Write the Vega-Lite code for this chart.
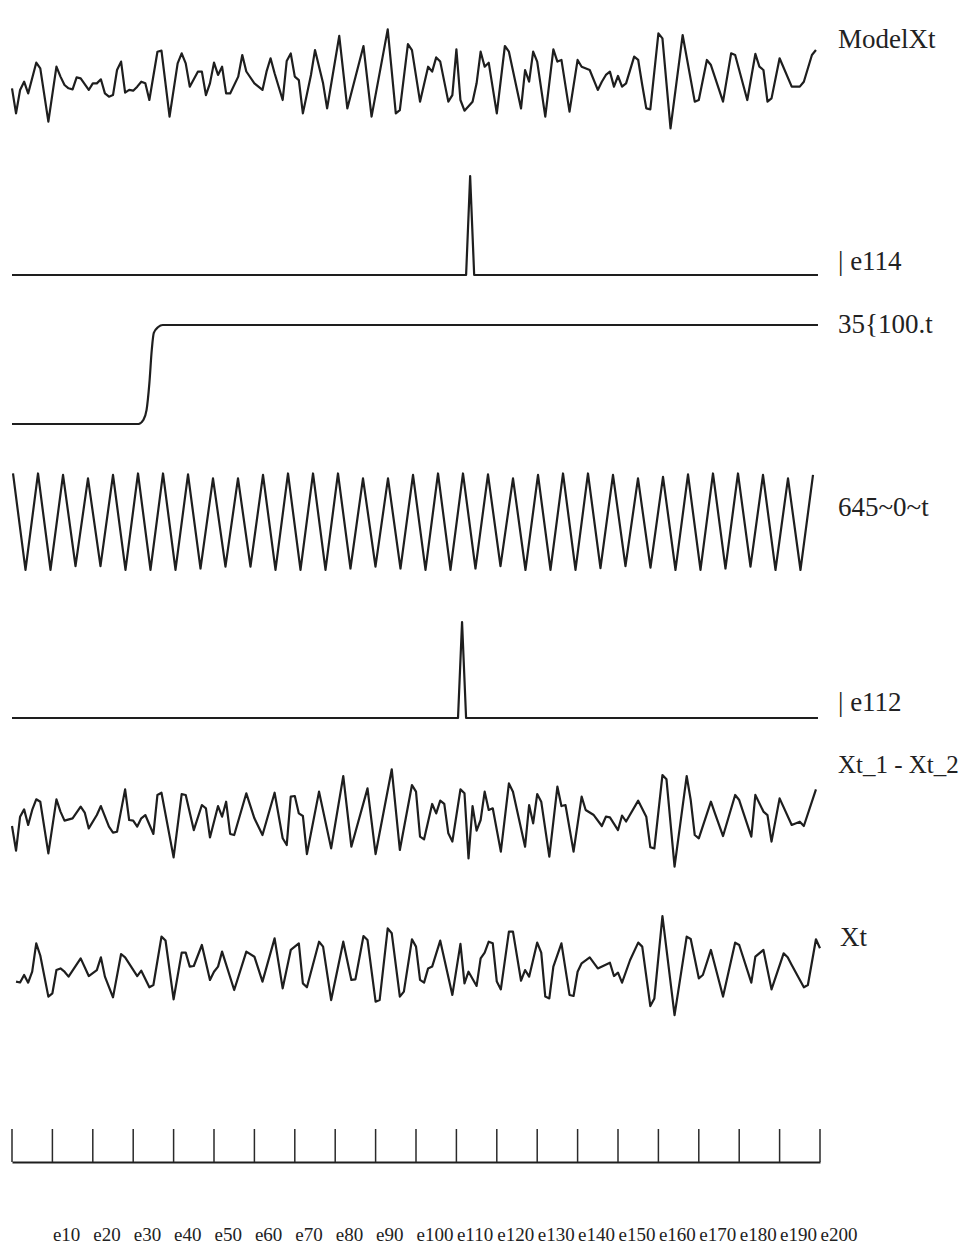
{
"$schema": "https://vega.github.io/schema/vega-lite/v6.json",
"padding": {"left": 10, "top": 0, "right": 0, "bottom": 0},
"spacing": 0,
"bounds": "flush",
"background": "white",
"config": {"view": {"stroke": null}, "text": {"font": "Liberation Serif", "fontSize": 27, "color": "#222", "align": "left", "baseline": "middle"}, "line": {"color": "#1e1e1e", "strokeWidth": 2.2, "strokeJoin": "round"}},
"datasets": {
"s": [
{"s":"M","t":0,"v":-0.22},{"s":"M","t":1,"v":-1.89},{"s":"M","t":2,"v":-0.33},{"s":"M","t":3,"v":0.22},{"s":"M","t":4,"v":-0.56},{"s":"M","t":6,"v":1.49},{"s":"M","t":7,"v":1.11},{"s":"M","t":9,"v":-2.44},{"s":"M","t":11,"v":1.22},{"s":"M","t":12,"v":0.56},{"s":"M","t":13,"v":0},{"s":"M","t":14,"v":-0.22},{"s":"M","t":15,"v":-0.29},{"s":"M","t":16,"v":0.51},{"s":"M","t":17,"v":0.44},{"s":"M","t":19,"v":-0.33},{"s":"M","t":20,"v":0.11},{"s":"M","t":21,"v":0.11},{"s":"M","t":22,"v":0.38},{"s":"M","t":23,"v":-0.56},{"s":"M","t":24,"v":-0.78},{"s":"M","t":25,"v":-0.67},{"s":"M","t":26,"v":1.0},{"s":"M","t":27,"v":1.56},{"s":"M","t":28,"v":-0.51},{"s":"M","t":29,"v":-0.33},{"s":"M","t":30,"v":-0.38},{"s":"M","t":31,"v":-0.11},{"s":"M","t":32,"v":0.22},{"s":"M","t":33,"v":0.11},{"s":"M","t":34,"v":-1.0},{"s":"M","t":36,"v":2.22},{"s":"M","t":37,"v":2.29},{"s":"M","t":39,"v":-2.11},{"s":"M","t":41,"v":1.44},{"s":"M","t":42,"v":2.11},{"s":"M","t":43,"v":1.44},{"s":"M","t":44,"v":-0.11},{"s":"M","t":46,"v":0.89},{"s":"M","t":47,"v":0.89},{"s":"M","t":48,"v":-0.67},{"s":"M","t":49,"v":0.11},{"s":"M","t":50,"v":1.49},{"s":"M","t":51,"v":0.67},{"s":"M","t":52,"v":1.22},{"s":"M","t":53,"v":-0.56},{"s":"M","t":54,"v":-0.56},{"s":"M","t":56,"v":0.56},{"s":"M","t":57,"v":2.0},{"s":"M","t":58,"v":0.9},{"s":"M","t":60,"v":0.11},{"s":"M","t":61,"v":-0.11},{"s":"M","t":62,"v":-0.33},{"s":"M","t":63,"v":0.89},{"s":"M","t":64,"v":1.78},{"s":"M","t":65,"v":0.78},{"s":"M","t":67,"v":-1.0},{"s":"M","t":68,"v":1.6},{"s":"M","t":69,"v":2.1},{"s":"M","t":70,"v":0.56},{"s":"M","t":71,"v":0.33},{"s":"M","t":72,"v":-1.89},{"s":"M","t":74,"v":0.67},{"s":"M","t":75,"v":2.33},{"s":"M","t":77,"v":0.11},{"s":"M","t":78,"v":-1.56},{"s":"M","t":81,"v":3.27},{"s":"M","t":83,"v":-1.56},{"s":"M","t":87,"v":2.6},{"s":"M","t":89,"v":-2.11},{"s":"M","t":93,"v":3.71},{"s":"M","t":95,"v":-1.89},{"s":"M","t":96,"v":-1.67},{"s":"M","t":98,"v":2.73},{"s":"M","t":99,"v":2.33},{"s":"M","t":101,"v":-1.11},{"s":"M","t":103,"v":1.22},{"s":"M","t":104,"v":0.89},{"s":"M","t":105,"v":1.84},{"s":"M","t":106,"v":1.56},{"s":"M","t":108,"v":-1.11},{"s":"M","t":109,"v":-0.67},{"s":"M","t":110,"v":2.38},{"s":"M","t":111,"v":-1.0},{"s":"M","t":112,"v":-1.71},{"s":"M","t":114,"v":-1.11},{"s":"M","t":115,"v":0.11},{"s":"M","t":116,"v":2.22},{"s":"M","t":117,"v":1.22},{"s":"M","t":118,"v":1.49},{"s":"M","t":120,"v":-1.89},{"s":"M","t":122,"v":2.6},{"s":"M","t":123,"v":2.22},{"s":"M","t":126,"v":-1.56},{"s":"M","t":127,"v":1.0},{"s":"M","t":128,"v":0.22},{"s":"M","t":129,"v":2.22},{"s":"M","t":130,"v":1.56},{"s":"M","t":132,"v":-2.11},{"s":"M","t":134,"v":2.38},{"s":"M","t":135,"v":1.56},{"s":"M","t":136,"v":1.67},{"s":"M","t":138,"v":-1.78},{"s":"M","t":140,"v":1.67},{"s":"M","t":141,"v":1.22},{"s":"M","t":143,"v":1.0},{"s":"M","t":145,"v":-0.33},{"s":"M","t":146,"v":0.22},{"s":"M","t":147,"v":0.67},{"s":"M","t":148,"v":0.89},{"s":"M","t":149,"v":-0.11},{"s":"M","t":150,"v":0.6},{"s":"M","t":151,"v":-0.11},{"s":"M","t":152,"v":0.11},{"s":"M","t":154,"v":1.89},{"s":"M","t":155,"v":1.67},{"s":"M","t":156,"v":0.0},{"s":"M","t":157,"v":-1.56},{"s":"M","t":158,"v":-1.62},{"s":"M","t":160,"v":3.44},{"s":"M","t":161,"v":3.11},{"s":"M","t":163,"v":-2.89},{"s":"M","t":166,"v":3.33},{"s":"M","t":169,"v":-1.11},{"s":"M","t":170,"v":-1.0},{"s":"M","t":172,"v":1.67},{"s":"M","t":173,"v":1.33},{"s":"M","t":176,"v":-1.11},{"s":"M","t":178,"v":2.11},{"s":"M","t":179,"v":2.0},{"s":"M","t":182,"v":-1.0},{"s":"M","t":184,"v":2.07},{"s":"M","t":185,"v":1.22},{"s":"M","t":186,"v":1.0},{"s":"M","t":187,"v":-1.11},{"s":"M","t":188,"v":-0.89},{"s":"M","t":190,"v":1.78},{"s":"M","t":193,"v":-0.11},{"s":"M","t":195,"v":-0.11},{"s":"M","t":196,"v":0.22},{"s":"M","t":198,"v":2.0},{"s":"M","t":199,"v":2.33},
{"s":"A","t":0,"v":0},{"s":"A","t":112.4,"v":0},{"s":"A","t":113.4,"v":1},{"s":"A","t":114.4,"v":0},{"s":"A","t":199.5,"v":0},
{"s":"S","t":0,"v":0},{"s":"S","t":31.3,"v":0},{"s":"S","t":32.5,"v":0.04},{"s":"S","t":33.3,"v":0.14},{"s":"S","t":34.0,"v":0.41},{"s":"S","t":34.6,"v":0.75},{"s":"S","t":35.1,"v":0.92},{"s":"S","t":36.2,"v":0.98},{"s":"S","t":37.3,"v":1.0},{"s":"S","t":199.5,"v":1.0},
{"s":"W","t":0.25,"v":0.99},{"s":"W","t":3.34,"v":-1},{"s":"W","t":6.44,"v":0.99},{"s":"W","t":9.53,"v":-1},{"s":"W","t":12.63,"v":0.96},{"s":"W","t":15.72,"v":-0.92},{"s":"W","t":18.81,"v":0.89},{"s":"W","t":21.9,"v":-0.92},{"s":"W","t":25.0,"v":0.96},{"s":"W","t":28.09,"v":-1},{"s":"W","t":31.19,"v":0.99},{"s":"W","t":34.28,"v":-1},{"s":"W","t":37.38,"v":0.99},{"s":"W","t":40.47,"v":-1},{"s":"W","t":43.57,"v":0.97},{"s":"W","t":46.66,"v":-0.97},{"s":"W","t":49.75,"v":0.89},{"s":"W","t":52.84,"v":-0.93},{"s":"W","t":55.94,"v":0.89},{"s":"W","t":59.03,"v":-0.93},{"s":"W","t":62.13,"v":0.96},{"s":"W","t":65.22,"v":-1},{"s":"W","t":68.32,"v":0.99},{"s":"W","t":71.41,"v":-1},{"s":"W","t":74.51,"v":0.99},{"s":"W","t":77.6,"v":-1},{"s":"W","t":80.69,"v":0.99},{"s":"W","t":83.78,"v":-0.97},{"s":"W","t":86.88,"v":0.89},{"s":"W","t":89.97,"v":-0.93},{"s":"W","t":93.07,"v":0.89},{"s":"W","t":96.16,"v":-0.97},{"s":"W","t":99.26,"v":0.96},{"s":"W","t":102.35,"v":-1},{"s":"W","t":105.45,"v":0.99},{"s":"W","t":108.54,"v":-1},{"s":"W","t":111.63,"v":0.99},{"s":"W","t":114.72,"v":-0.97},{"s":"W","t":117.82,"v":0.97},{"s":"W","t":120.91,"v":-0.92},{"s":"W","t":124.01,"v":0.89},{"s":"W","t":127.1,"v":-1},{"s":"W","t":130.2,"v":0.96},{"s":"W","t":133.29,"v":-1},{"s":"W","t":136.39,"v":0.99},{"s":"W","t":139.48,"v":-1},{"s":"W","t":142.57,"v":0.99},{"s":"W","t":145.66,"v":-0.96},{"s":"W","t":148.76,"v":0.96},{"s":"W","t":151.85,"v":-0.92},{"s":"W","t":154.95,"v":0.89},{"s":"W","t":158.04,"v":-0.95},{"s":"W","t":161.14,"v":0.92},{"s":"W","t":164.23,"v":-1},{"s":"W","t":167.33,"v":0.97},{"s":"W","t":170.42,"v":-1},{"s":"W","t":173.51,"v":0.99},{"s":"W","t":176.6,"v":-0.97},{"s":"W","t":179.7,"v":0.99},{"s":"W","t":182.79,"v":-0.93},{"s":"W","t":185.89,"v":0.96},{"s":"W","t":188.98,"v":-1},{"s":"W","t":192.08,"v":0.89},{"s":"W","t":195.17,"v":-1},{"s":"W","t":198.27,"v":0.96},
{"s":"B","t":0,"v":0},{"s":"B","t":110.4,"v":0},{"s":"B","t":111.4,"v":1},{"s":"B","t":112.4,"v":0},{"s":"B","t":199.5,"v":0},
{"s":"D","t":0,"v":-0.4},{"s":"D","t":1,"v":-2.04},{"s":"D","t":2,"v":0.22},{"s":"D","t":3,"v":0.71},{"s":"D","t":4,"v":-0.33},{"s":"D","t":5,"v":0.67},{"s":"D","t":6,"v":1.38},{"s":"D","t":7,"v":1.22},{"s":"D","t":9,"v":-2.22},{"s":"D","t":11,"v":1.38},{"s":"D","t":12,"v":0.56},{"s":"D","t":13,"v":-0.04},{"s":"D","t":15,"v":0.11},{"s":"D","t":17,"v":0.89},{"s":"D","t":18,"v":0.5},{"s":"D","t":19,"v":-0.56},{"s":"D","t":21,"v":0.33},{"s":"D","t":22,"v":0.93},{"s":"D","t":24,"v":-0.44},{"s":"D","t":25,"v":-0.84},{"s":"D","t":26,"v":-0.78},{"s":"D","t":28,"v":2.04},{"s":"D","t":29,"v":0},{"s":"D","t":30,"v":-0.04},{"s":"D","t":31,"v":-0.44},{"s":"D","t":32,"v":0.11},{"s":"D","t":33,"v":0.33},{"s":"D","t":35,"v":-0.93},{"s":"D","t":36,"v":1.67},{"s":"D","t":37,"v":1.82},{"s":"D","t":40,"v":-2.49},{"s":"D","t":42,"v":1.73},{"s":"D","t":43,"v":1.67},{"s":"D","t":45,"v":-0.67},{"s":"D","t":47,"v":1.0},{"s":"D","t":48,"v":0.78},{"s":"D","t":49,"v":-1.16},{"s":"D","t":51,"v":0.93},{"s":"D","t":52,"v":0.22},{"s":"D","t":53,"v":1.22},{"s":"D","t":54,"v":-0.93},{"s":"D","t":55,"v":-1.0},{"s":"D","t":58,"v":1.78},{"s":"D","t":60,"v":0.11},{"s":"D","t":62,"v":-1.0},{"s":"D","t":65,"v":1.82},{"s":"D","t":67,"v":-1.22},{"s":"D","t":68,"v":-1.67},{"s":"D","t":69,"v":1.56},{"s":"D","t":70,"v":1.6},{"s":"D","t":71,"v":0.44},{"s":"D","t":72,"v":0.27},{"s":"D","t":73,"v":-2.27},{"s":"D","t":76,"v":1.89},{"s":"D","t":79,"v":-1.89},{"s":"D","t":82,"v":2.93},{"s":"D","t":84,"v":-1.78},{"s":"D","t":88,"v":2.11},{"s":"D","t":90,"v":-2.27},{"s":"D","t":94,"v":3.38},{"s":"D","t":96,"v":-2.0},{"s":"D","t":99,"v":2.33},{"s":"D","t":100,"v":1.89},{"s":"D","t":101,"v":-1.11},{"s":"D","t":102,"v":-1.29},{"s":"D","t":104,"v":1.07},{"s":"D","t":105,"v":0.44},{"s":"D","t":106,"v":1.29},{"s":"D","t":107,"v":1.07},{"s":"D","t":108,"v":-0.89},{"s":"D","t":109,"v":-1.44},{"s":"D","t":111,"v":2.04},{"s":"D","t":112,"v":1.78},{"s":"D","t":113,"v":-2.56},{"s":"D","t":114,"v":0.93},{"s":"D","t":115,"v":-0.71},{"s":"D","t":116,"v":0},{"s":"D","t":117,"v":1.89},{"s":"D","t":118,"v":0.67},{"s":"D","t":119,"v":0.78},{"s":"D","t":121,"v":-2.11},{"s":"D","t":123,"v":2.44},{"s":"D","t":124,"v":1.89},{"s":"D","t":127,"v":-1.78},{"s":"D","t":128,"v":1.0},{"s":"D","t":129,"v":-0.22},{"s":"D","t":130,"v":1.73},{"s":"D","t":131,"v":1.22},{"s":"D","t":133,"v":-2.44},{"s":"D","t":135,"v":2.22},{"s":"D","t":136,"v":0.93},{"s":"D","t":137,"v":1.0},{"s":"D","t":139,"v":-2.11},{"s":"D","t":141,"v":1.56},{"s":"D","t":142,"v":0.67},{"s":"D","t":144,"v":0.33},{"s":"D","t":146,"v":-0.4},{"s":"D","t":147,"v":0.22},{"s":"D","t":148,"v":0.18},{"s":"D","t":150,"v":-0.67},{"s":"D","t":151,"v":0.3},{"s":"D","t":152,"v":-0.1},{"s":"D","t":155,"v":1.29},{"s":"D","t":157,"v":0.22},{"s":"D","t":158,"v":-1.82},{"s":"D","t":159,"v":-1.89},{"s":"D","t":161,"v":3.0},{"s":"D","t":162,"v":2.71},{"s":"D","t":164,"v":-3.11},{"s":"D","t":167,"v":2.93},{"s":"D","t":168,"v":1.33},{"s":"D","t":169,"v":-1.0},{"s":"D","t":170,"v":-1.22},{"s":"D","t":173,"v":1.22},{"s":"D","t":174,"v":0.44},{"s":"D","t":176,"v":-1.07},{"s":"D","t":179,"v":1.67},{"s":"D","t":180,"v":1.33},{"s":"D","t":183,"v":-1.11},{"s":"D","t":184,"v":1.67},{"s":"D","t":186,"v":0.56},{"s":"D","t":187,"v":0.33},{"s":"D","t":188,"v":-1.44},{"s":"D","t":190,"v":1.44},{"s":"D","t":193,"v":-0.33},{"s":"D","t":195,"v":-0.11},{"s":"D","t":196,"v":-0.4},{"s":"D","t":199,"v":2.04},
{"s":"X","t":1,"v":-0.44},{"s":"X","t":2,"v":-0.5},{"s":"X","t":3,"v":0},{"s":"X","t":4,"v":-0.51},{"s":"X","t":5,"v":0.22},{"s":"X","t":6,"v":2.11},{"s":"X","t":7,"v":1.3},{"s":"X","t":9,"v":-1.44},{"s":"X","t":10,"v":-1.22},{"s":"X","t":11,"v":0.33},{"s":"X","t":12,"v":0.44},{"s":"X","t":13,"v":0.22},{"s":"X","t":14,"v":-0.11},{"s":"X","t":17,"v":1.11},{"s":"X","t":19,"v":-0.07},{"s":"X","t":21,"v":0.33},{"s":"X","t":22,"v":1.18},{"s":"X","t":23,"v":-0.11},{"s":"X","t":25,"v":-1.49},{"s":"X","t":27,"v":1.4},{"s":"X","t":28,"v":1.18},{"s":"X","t":31,"v":-0.07},{"s":"X","t":32,"v":0.29},{"s":"X","t":34,"v":-0.82},{"s":"X","t":35,"v":-0.67},{"s":"X","t":37,"v":2.56},{"s":"X","t":38,"v":2.3},{"s":"X","t":40,"v":-1.62},{"s":"X","t":42,"v":1.49},{"s":"X","t":43,"v":1.49},{"s":"X","t":44,"v":0.56},{"s":"X","t":45,"v":0.6},{"s":"X","t":47,"v":2.0},{"s":"X","t":49,"v":-0.33},{"s":"X","t":50,"v":0.22},{"s":"X","t":51,"v":0.56},{"s":"X","t":52,"v":1.56},{"s":"X","t":55,"v":-1.0},{"s":"X","t":58,"v":1.56},{"s":"X","t":60,"v":1.22},{"s":"X","t":62,"v":-0.44},{"s":"X","t":65,"v":2.44},{"s":"X","t":67,"v":-0.89},{"s":"X","t":69,"v":1.67},{"s":"X","t":71,"v":2.11},{"s":"X","t":72,"v":-0.56},{"s":"X","t":73,"v":-0.82},{"s":"X","t":76,"v":2.22},{"s":"X","t":77,"v":1.89},{"s":"X","t":79,"v":-1.67},{"s":"X","t":82,"v":2.22},{"s":"X","t":84,"v":-0.33},{"s":"X","t":85,"v":-0.29},{"s":"X","t":87,"v":2.6},{"s":"X","t":88,"v":2.33},{"s":"X","t":90,"v":-1.78},{"s":"X","t":91,"v":-1.67},{"s":"X","t":93,"v":3.11},{"s":"X","t":94,"v":2.78},{"s":"X","t":96,"v":-1.44},{"s":"X","t":97,"v":-1.11},{"s":"X","t":99,"v":2.38},{"s":"X","t":100,"v":1.89},{"s":"X","t":101,"v":-0.33},{"s":"X","t":102,"v":-0.51},{"s":"X","t":103,"v":0.44},{"s":"X","t":104,"v":0.56},{"s":"X","t":106,"v":2.29},{"s":"X","t":109,"v":-1.33},{"s":"X","t":111,"v":2.07},{"s":"X","t":112,"v":-0.56},{"s":"X","t":113,"v":0.22},{"s":"X","t":115,"v":-0.73},{"s":"X","t":116,"v":1.11},{"s":"X","t":117,"v":1.49},{"s":"X","t":118,"v":2.22},{"s":"X","t":119,"v":2.11},{"s":"X","t":120,"v":-0.44},{"s":"X","t":121,"v":-0.96},{"s":"X","t":123,"v":2.89},{"s":"X","t":124,"v":2.89},{"s":"X","t":126,"v":-0.38},{"s":"X","t":127,"v":0.33},{"s":"X","t":128,"v":-0.11},{"s":"X","t":130,"v":2.16},{"s":"X","t":131,"v":1.49},{"s":"X","t":132,"v":-1.44},{"s":"X","t":133,"v":-1.56},{"s":"X","t":134,"v":0.56},{"s":"X","t":136,"v":2.11},{"s":"X","t":138,"v":-1.33},{"s":"X","t":139,"v":-1.4},{"s":"X","t":140,"v":0.22},{"s":"X","t":141,"v":0.78},{"s":"X","t":143,"v":1.18},{"s":"X","t":145,"v":0.44},{"s":"X","t":148,"v":0.82},{"s":"X","t":149,"v":-0.07},{"s":"X","t":150,"v":0.16},{"s":"X","t":151,"v":-0.51},{"s":"X","t":153,"v":1.0},{"s":"X","t":155,"v":2.16},{"s":"X","t":156,"v":1.89},{"s":"X","t":158,"v":-2.07},{"s":"X","t":159,"v":-1.56},{"s":"X","t":161,"v":3.93},{"s":"X","t":164,"v":-2.67},{"s":"X","t":167,"v":2.56},{"s":"X","t":168,"v":2.4},{"s":"X","t":170,"v":-0.22},{"s":"X","t":171,"v":0},{"s":"X","t":173,"v":1.67},{"s":"X","t":176,"v":-1.44},{"s":"X","t":179,"v":2.16},{"s":"X","t":180,"v":2.0},{"s":"X","t":183,"v":-0.51},{"s":"X","t":184,"v":1.22},{"s":"X","t":186,"v":1.67},{"s":"X","t":188,"v":-0.96},{"s":"X","t":191,"v":1.44},{"s":"X","t":192,"v":1.18},{"s":"X","t":193,"v":0.67},{"s":"X","t":196,"v":-0.82},{"s":"X","t":197,"v":-0.67},{"s":"X","t":199,"v":2.38},{"s":"X","t":200,"v":1.78}
],
"ticks": [{"t":0},{"t":10},{"t":20},{"t":30},{"t":40},{"t":50},{"t":60},{"t":70},{"t":80},{"t":90},{"t":100},{"t":110},{"t":120},{"t":130},{"t":140},{"t":150},{"t":160},{"t":170},{"t":180},{"t":190},{"t":200}]
},
"vconcat": [
{"width": 808, "height": 150, "data": {"name": "s"}, "transform": [{"filter": "datum.s == 'M'"}],
 "encoding": {"x": {"field": "t", "type": "quantitative", "scale": {"domain": [0, 200], "nice": false}, "axis": null}, "y": {"field": "v", "type": "quantitative", "scale": {"domain": [-4.333, 5.667], "nice": false, "zero": false}, "axis": null}},
 "layer": [
  {"mark": {"type": "line"}},
  {"transform": [{"window": [{"op": "row_number", "as": "rn"}], "sort": [{"field": "t", "order": "descending"}]}, {"filter": "datum.rn == 1"}], "mark": {"type": "text", "dx": 22, "dy": -10}, "encoding": {"text": {"value": "ModelXt"}}}
 ]},
{"width": 808, "height": 150, "data": {"name": "s"}, "transform": [{"filter": "datum.s == 'A'"}],
 "encoding": {"x": {"field": "t", "type": "quantitative", "scale": {"domain": [0, 200], "nice": false}, "axis": null}, "y": {"field": "v", "type": "quantitative", "scale": {"domain": [-0.2525, 1.2626], "nice": false, "zero": false}, "axis": null}},
 "layer": [
  {"mark": {"type": "line"}},
  {"transform": [{"window": [{"op": "row_number", "as": "rn"}], "sort": [{"field": "t", "order": "descending"}]}, {"filter": "datum.rn == 1"}], "mark": {"type": "text", "dx": 20, "dy": -13}, "encoding": {"text": {"value": "| e114"}}}
 ]},
{"width": 808, "height": 150, "data": {"name": "s"}, "transform": [{"filter": "datum.s == 'S'"}],
 "encoding": {"x": {"field": "t", "type": "quantitative", "scale": {"domain": [0, 200], "nice": false}, "axis": null}, "y": {"field": "v", "type": "quantitative", "scale": {"domain": [-0.2626, 1.2525], "nice": false, "zero": false}, "axis": null}},
 "layer": [
  {"mark": {"type": "line", "interpolate": "monotone"}},
  {"transform": [{"window": [{"op": "row_number", "as": "rn"}], "sort": [{"field": "t", "order": "descending"}]}, {"filter": "datum.rn == 1"}], "mark": {"type": "text", "dx": 20, "dy": 0}, "encoding": {"text": {"value": "35{100.t"}}}
 ]},
{"width": 808, "height": 150, "data": {"name": "s"}, "transform": [{"filter": "datum.s == 'W'"}],
 "encoding": {"x": {"field": "t", "type": "quantitative", "scale": {"domain": [0, 200], "nice": false}, "axis": null}, "y": {"field": "v", "type": "quantitative", "scale": {"domain": [-1.619, 1.474], "nice": false, "zero": false}, "axis": null}},
 "layer": [
  {"mark": {"type": "line"}},
  {"transform": [{"window": [{"op": "row_number", "as": "rn"}], "sort": [{"field": "t", "order": "descending"}]}, {"filter": "datum.rn == 1"}], "mark": {"type": "text", "dx": 25, "dy": 33}, "encoding": {"text": {"value": "645~0~t"}}}
 ]},
{"width": 808, "height": 150, "data": {"name": "s"}, "transform": [{"filter": "datum.s == 'B'"}],
 "encoding": {"x": {"field": "t", "type": "quantitative", "scale": {"domain": [0, 200], "nice": false}, "axis": null}, "y": {"field": "v", "type": "quantitative", "scale": {"domain": [-0.333, 1.229], "nice": false, "zero": false}, "axis": null}},
 "layer": [
  {"mark": {"type": "line"}},
  {"transform": [{"window": [{"op": "row_number", "as": "rn"}], "sort": [{"field": "t", "order": "descending"}]}, {"filter": "datum.rn == 1"}], "mark": {"type": "text", "dx": 20, "dy": -15}, "encoding": {"text": {"value": "| e112"}}}
 ]},
{"width": 808, "height": 150, "data": {"name": "s"}, "transform": [{"filter": "datum.s == 'D'"}],
 "encoding": {"x": {"field": "t", "type": "quantitative", "scale": {"domain": [0, 200], "nice": false}, "axis": null}, "y": {"field": "v", "type": "quantitative", "scale": {"domain": [-5.333, 4.667], "nice": false, "zero": false}, "axis": null}},
 "layer": [
  {"mark": {"type": "line"}},
  {"transform": [{"window": [{"op": "row_number", "as": "rn"}], "sort": [{"field": "t", "order": "descending"}]}, {"filter": "datum.rn == 1"}], "mark": {"type": "text", "dx": 22, "dy": -24, "fontSize": 25}, "encoding": {"text": {"value": "Xt_1 - Xt_2"}}}
 ]},
{"width": 808, "height": 229, "data": {"name": "s"}, "transform": [{"filter": "datum.s == 'X'"}],
 "encoding": {"x": {"field": "t", "type": "quantitative", "scale": {"domain": [0, 200], "nice": false}, "axis": null}, "y": {"field": "v", "type": "quantitative", "scale": {"domain": [-10.267, 5], "nice": false, "zero": false}, "axis": null}},
 "layer": [
  {"mark": {"type": "line"}},
  {"transform": [{"window": [{"op": "row_number", "as": "rn"}], "sort": [{"field": "t", "order": "descending"}]}, {"filter": "datum.rn == 1"}], "mark": {"type": "text", "dx": 20, "dy": -10}, "encoding": {"text": {"value": "Xt"}}}
 ]},
{"width": 808, "height": 33, "data": {"name": "ticks"},
 "mark": {"type": "rule", "color": "#2a2a2a", "strokeWidth": 1.5},
 "encoding": {"x": {"field": "t", "type": "quantitative", "scale": {"domain": [0, 200], "nice": false},
   "axis": {"title": null, "values": [10,20,30,40,50,60,70,80,90,100,110,120,130,140,150,160,170,180,190,200], "labelExpr": "'e' + datum.value", "domain": true, "domainColor": "#1e1e1e", "domainWidth": 2, "ticks": false, "grid": false, "labelFont": "Liberation Serif", "labelFontSize": 19, "labelColor": "#222", "labelPadding": 63, "labelAlign": "left", "labelFlush": false, "labelOverlap": false}}}
}
]
}
